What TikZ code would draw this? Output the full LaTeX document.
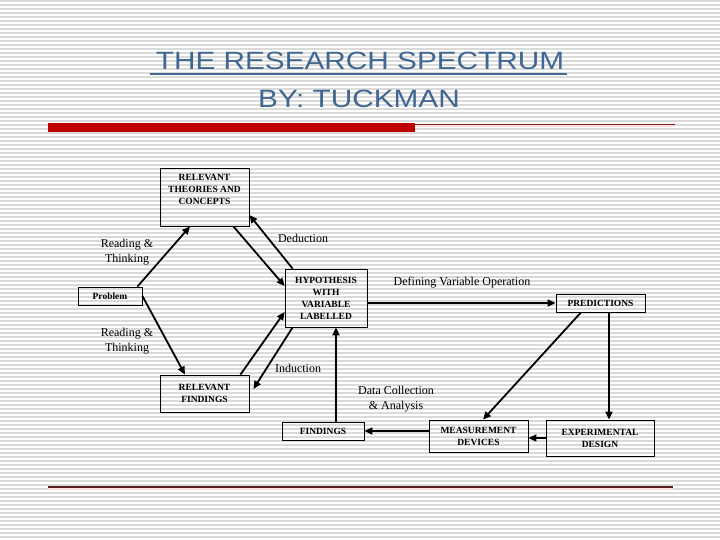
\documentclass[tikz,border=0pt]{standalone}
\usepackage{fontspec}
\setmainfont{Liberation Serif}
\newfontfamily\headfont{Liberation Sans}
\usetikzlibrary{arrows.meta}
\definecolor{heading}{HTML}{3F6791}
\definecolor{barred}{HTML}{C00000}
\definecolor{rulered}{HTML}{5A1E1E}
\definecolor{stripe}{HTML}{DADADA}

\begin{document}
\begin{tikzpicture}[x=1pt,y=-1pt,
  box/.style={draw,line width=.8pt,align=center,inner sep=0pt,font=\fontsize{9.5}{12}\selectfont\bfseries},
  lbl/.style={align=center,inner sep=0pt,font=\fontsize{12}{14.5}\selectfont},
  link/.style={line width=1.8pt,-{Triangle[length=8pt,width=7pt]}},
  head/.style={heading,inner sep=0pt,anchor=base,xscale=1.19,transform shape,font=\headfont\fontsize{25}{30}\selectfont}]
\useasboundingbox(0,0)rectangle(720,540);
\fill[white](0,0)rectangle(720,540);
\foreach\y in{1,5,...,537}\draw[stripe,line width=1.1pt](0,\y)--(720,\y);
\node[head](title)at(360,69.5){THE RESEARCH SPECTRUM};
\draw[heading,line width=2pt]([xshift=-6pt,yshift=-5pt]title.base west)--([xshift=3pt,yshift=-5pt]title.base east);
\node[head](byline)at(359,108){BY: TUCKMAN};
\fill[barred](48,123)rectangle(415,132);
\draw[red!12,line width=1.5pt](415,126)--(675,126);
\draw[rulered!80!red,line width=1pt](415,124.5)--(675,124.5);
\draw[red!12,line width=1.5pt](48,489)--(673,489);
\draw[rulered,line width=1.3pt](48,487)--(673,487);

\node[box,minimum width=89pt,minimum height=58pt](theories)at(204.5,197){RELEVANT\\THEORIES AND\\CONCEPTS\\\strut};
\node[box,minimum width=64pt,minimum height=18pt](problem)at(110,296){Problem};
\node[box,minimum width=82pt,minimum height=58pt](hypothesis)at(326,298){HYPOTHESIS\\WITH\\VARIABLE\\LABELLED};
\node[box,minimum width=89pt,minimum height=37pt](relevant)at(204.5,393.5){RELEVANT\\FINDINGS};
\node[box,minimum width=82pt,minimum height=18pt](findings)at(323,431){FINDINGS};
\node[box,minimum width=99pt,minimum height=32pt](measurement)at(478.5,436){MEASUREMENT\\DEVICES};
\node[box,minimum width=108pt,minimum height=36pt](design)at(600,438){EXPERIMENTAL\\DESIGN};
\node[box,minimum width=89pt,minimum height=18pt](predictions)at(600.5,303){PREDICTIONS};

\node[lbl](deduction)at(303,238){Deduction};
\node[lbl](readtop)at(127,252){Reading \&\\Thinking};
\node[lbl](readlow)at(127,341){Reading \&\\Thinking};
\node[lbl](induction)at(298,368){Induction};
\node[lbl](defining)at(462,283){Defining Variable Operation};
\node[lbl](collection)at(396,399){Data Collection\\\& Analysis};

\draw[link]([xshift=-5pt]problem.north east)--([xshift=-14.5pt]theories.south);
\draw[link]([xshift=-16pt]theories.south east)--([yshift=12pt]hypothesis.west);
\draw[link]([xshift=8pt]hypothesis.north west)--([yshift=-18pt]theories.east);
\draw[link](problem.east)--([xshift=-19.5pt]relevant.north);
\draw[link]([xshift=-9pt]relevant.north east)--([yshift=-14pt]hypothesis.west);
\draw[link]([xshift=8pt]hypothesis.south west)--([xshift=4pt,yshift=4.5pt]relevant.east);
\draw[link]([xshift=13pt]findings.north)--([xshift=10pt]hypothesis.south);
\draw[link]([yshift=-5pt]hypothesis.east)--(predictions.west);
\draw[link]([xshift=-19.5pt]predictions.south)--([xshift=4.5pt]measurement.north);
\draw[link]([xshift=8.5pt]predictions.south)--([xshift=9pt]design.north);
\draw[link](design.west)--(design.west-|measurement.east);
\draw[link]([yshift=5pt]measurement.west)--(findings.east);
\end{tikzpicture}
\end{document}
